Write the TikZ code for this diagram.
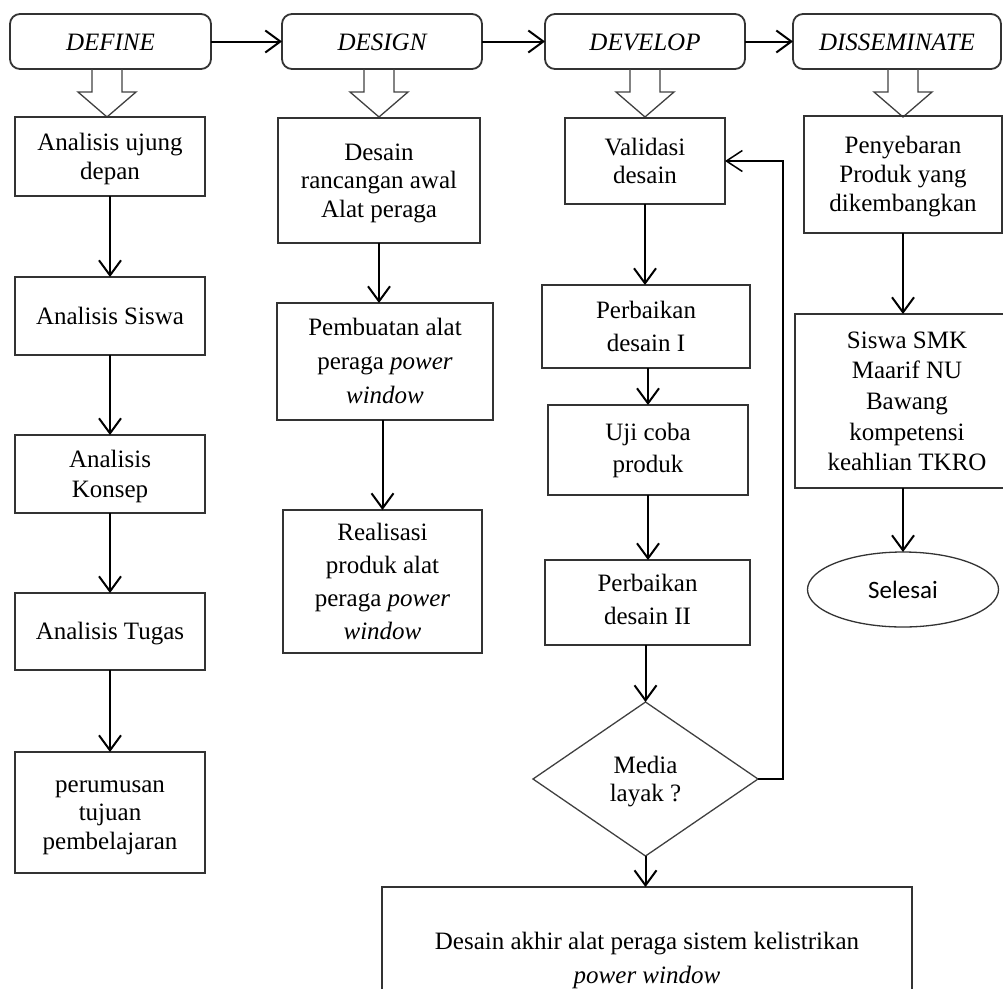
\documentclass[tikz,border=0pt]{standalone}
\usepackage{fontspec}
\setmainfont{Liberation Serif}
\newfontfamily\selfont{Carlito}
\usetikzlibrary{arrows.meta,shapes.geometric,calc}
\newcommand{\hollowdown}[1]{\draw[hol] (#1-15,69) -- (#1-15,92) -- (#1-29,92) -- (#1,117) -- (#1+29,92) -- (#1+15,92) -- (#1+15,69);}
\begin{document}
\begin{tikzpicture}[x=1pt,y=-1pt,
  every node/.style={inner sep=0pt, outer sep=0pt, align=center},
  ls/.style={font=\fontsize{25}{#1}\selectfont},
  ls/.default=28.5,
  th/.style={text height=#1, text depth=5.4pt},
  box/.style={draw=black!80, line width=1.8pt, rectangle, ls},
  phase/.style={draw=black!80, line width=1.8pt, rectangle, rounded corners=10pt, th=24.3pt,
    font=\fontsize{25}{28.5}\selectfont\itshape, minimum height=55pt},
  arr/.style={draw=black, line width=2pt, -{Straight Barb[length=15pt,width=22pt]}},
  fb/.style={draw=black, line width=1.5pt, -{Straight Barb[length=16pt,width=21pt]}},
  hol/.style={draw=black!75, line width=1.3pt, line join=miter}
]
\useasboundingbox (0,0) rectangle (1003,988);

% phase boxes
\node[phase, minimum width=201pt] (define) at (110.5,41.5) {DEFINE};
\node[phase, minimum width=200pt] (design) at (382,41.5) {DESIGN};
\node[phase, minimum width=200pt] (develop) at (645,41.5) {DEVELOP};
\node[phase, minimum width=208pt] (dissem) at (897,41.5) {DISSEMINATE};

\draw[arr] (define.east) -- (design.west);
\draw[arr] (design.east) -- (develop.west);
\draw[arr] (develop.east) -- (dissem.west);

\hollowdown{107}
\hollowdown{379}
\hollowdown{645}
\hollowdown{903}

% column 1
\node[box, th=50.8pt, minimum width=190pt, minimum height=79pt] (c1a) at (110,156.5) {Analisis ujung\\depan};
\node[box, th=22.3pt, minimum width=190pt, minimum height=78pt] (c1b) at (110,316) {Analisis Siswa};
\node[box, ls=30, th=52.3pt, minimum width=190pt, minimum height=78pt] (c1c) at (110,474) {Analisis\\Konsep};
\node[box, th=22.3pt, minimum width=190pt, minimum height=77pt] (c1d) at (110,631.5) {Analisis Tugas};
\node[box, th=79.3pt, minimum width=190pt, minimum height=121pt] (c1e) at (110,812.5) {perumusan\\tujuan\\pembelajaran};
\draw[arr] (c1a.south) -- (c1b.north);
\draw[arr] (c1b.south) -- (c1c.north);
\draw[arr] (c1c.south) -- (c1d.north);
\draw[arr] (c1d.south) -- (c1e.north);

% column 2
\node[box, th=79.3pt, minimum width=202pt, minimum height=125pt] (c2a) at (379,180.5) {Desain\\rancangan awal\\Alat peraga};
\node[box, ls=34, th=90.3pt, minimum width=216pt, minimum height=117pt] (c2b) at (385,361.5) {Pembuatan alat\\peraga \textit{power}\\\textit{window}};
\node[box, ls=33, th=121.3pt, minimum width=199pt, minimum height=143pt] (c2c) at (382.5,581.5) {Realisasi\\produk alat\\peraga \textit{power}\\\textit{window}};
\draw[arr] (c2a.south) -- (c2a.south |- c2b.north);
\draw[arr] (c2c.north |- c2b.south) -- (c2c.north);

% column 3
\node[box, ls=28, th=50.3pt, minimum width=160pt, minimum height=86pt] (c3a) at (645,161) {Validasi\\desain};
\node[box, ls=33, th=55.3pt, minimum width=208pt, minimum height=83pt] (c3b) at (646,326.5) {Perbaikan\\desain I};
\node[box, ls=32, th=50.3pt, minimum width=200pt, minimum height=90pt] (c3c) at (648,450) {Uji coba\\produk};
\node[box, ls=33, th=49.3pt, minimum width=205pt, minimum height=85pt] (c3d) at (647.5,602.5) {Perbaikan\\desain II};
\node[diamond, draw=black!75, line width=1.3pt, ls=28, th=50.3pt, minimum width=225pt, minimum height=154pt] (dia) at (645.5,779) {Media\\layak ?};
\node[box, ls=34, th=56.3pt, minimum width=530pt, minimum height=142pt] (fin) at (647,958) {Desain akhir alat peraga sistem kelistrikan\\\textit{power window}};
\coordinate (fbx) at (783,0);
\draw[arr] (c3a.south) -- (c3a.south |- c3b.north);
\draw[arr] (c3c.north |- c3b.south) -- (c3c.north);
\draw[arr] (c3c.south) -- (c3c.south |- c3d.north);
\draw[arr] (dia.north |- c3d.south) -- (dia.north);
\draw[arr] (dia.south) -- (dia.south |- fin.north);
\draw[fb] (dia.east) -| (fbx |- c3a.east) -- (c3a.east);

% column 4
\node[box, ls=29, th=80.3pt, minimum width=198pt, minimum height=117pt] (c4a) at (903,174.5) {Penyebaran\\Produk yang\\dikembangkan};
\node[box, ls=30.7, th=145.1pt, minimum width=224pt, minimum height=174pt] (c4b) at (907,401) {Siswa SMK\\Maarif NU\\Bawang\\kompetensi\\keahlian TKRO};
\node[ellipse, draw=black!80, line width=1.3pt, minimum width=191pt, minimum height=75pt, font=\fontsize{25}{28}\selfont] (ell) at (903,589.5) {Selesai};
\draw[arr] (c4a.south) -- (c4a.south |- c4b.north);
\draw[arr] (ell.north |- c4b.south) -- (ell.north);
\end{tikzpicture}
\end{document}
